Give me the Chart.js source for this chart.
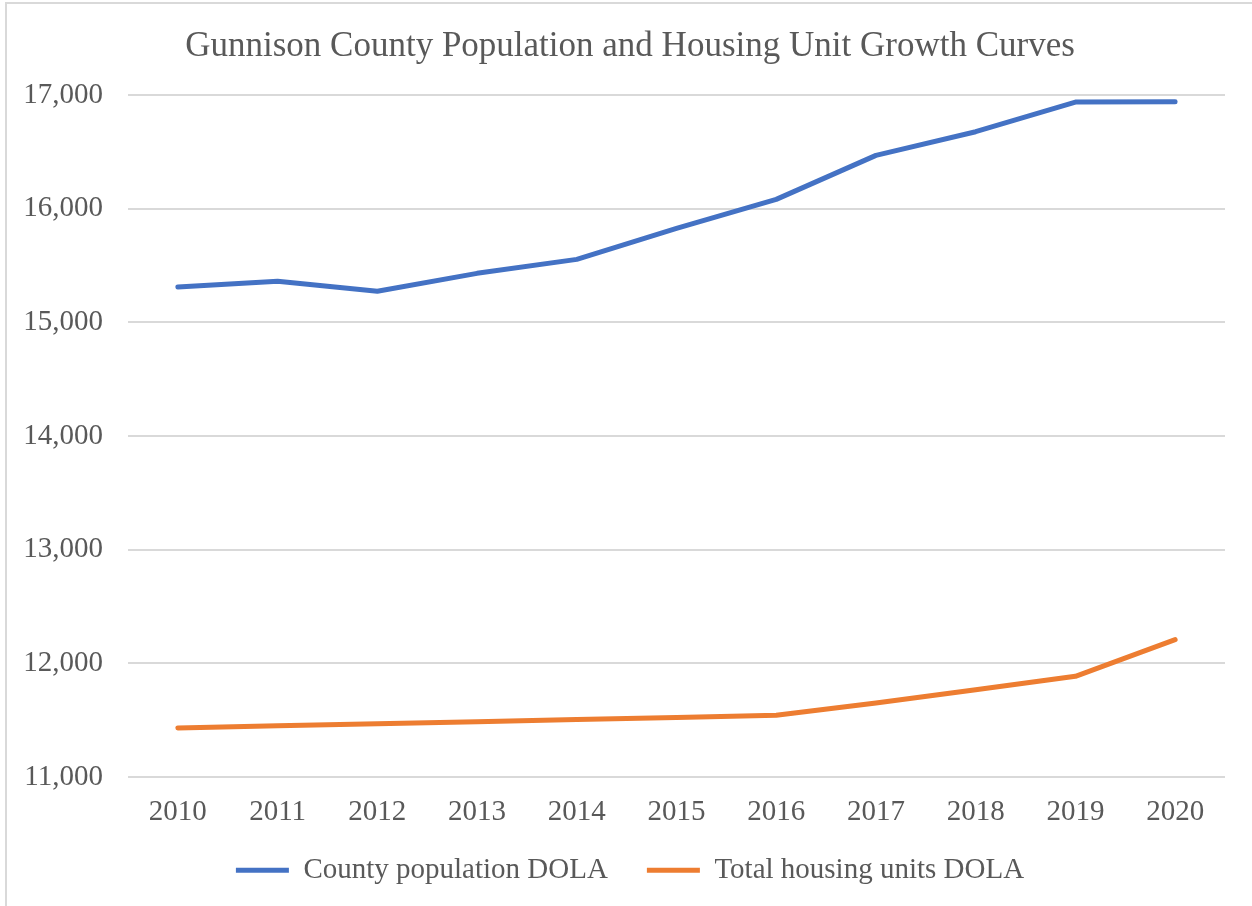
<!DOCTYPE html>
<html>
<head>
<meta charset="utf-8">
<script src="https://cdn.jsdelivr.net/npm/chart.js@4/dist/chart.umd.min.js"></script>
<style>
  html, body { margin: 0; padding: 0; background: #ffffff; }
  #wrap { position: absolute; left: 0; top: 0; width: 1252px; height: 906px; }
  #frame { position: absolute; left: 5px; top: 2px; width: 1260px; height: 920px;
           border-left: 2px solid #d9d9d9; border-top: 2px solid #d9d9d9; }
  canvas { position: absolute; left: 0; top: 0; }
</style>
</head>
<body>
<div id="wrap">
  <div id="frame"></div>
  <canvas id="c" width="1252" height="906"></canvas>
</div>
<script>
const years = ['2010','2011','2012','2013','2014','2015','2016','2017','2018','2019','2020'];
const population = [15311, 15361, 15273, 15431, 15554, 15827, 16082, 16469, 16677, 16938, 16941];
const housing = [11431, 11450, 11468, 11487, 11505, 11524, 11543, 11651, 11768, 11886, 12208];
const yTicks = [11000, 12000, 13000, 14000, 15000, 16000, 17000];
const chartTitle = 'Gunnison County Population and Housing Unit Growth Curves';
const seriesNames = ['County population DOLA', 'Total housing units DOLA'];

const FONT = "'Liberation Serif', 'Times New Roman', serif";
const TXT = '#595959';

// moves the legend box up so it sits closer to the axis labels (as in the reference)
const legendShift = {
  id: 'legendShift',
  afterLayout(chart) {
    const L = chart.legend;
    if (L) { L.top -= 31; L.bottom -= 31; }
  }
};

new Chart(document.getElementById('c'), {
  type: 'line',
  data: {
    labels: years,
    datasets: [
      { label: seriesNames[0], data: population, borderColor: '#4472C4', backgroundColor: '#4472C4',
        borderWidth: 5, pointRadius: 0, tension: 0, borderCapStyle: 'round', borderJoinStyle: 'round' },
      { label: seriesNames[1], data: housing, borderColor: '#ED7D31', backgroundColor: '#ED7D31',
        borderWidth: 5, pointRadius: 0, tension: 0, borderCapStyle: 'round', borderJoinStyle: 'round' }
    ]
  },
  plugins: [legendShift],
  options: {
    responsive: false,
    animation: false,
    layout: { padding: { left: 8, right: 0, top: 0, bottom: -19.8 } },
    plugins: {
      title: {
        display: true, text: chartTitle, color: TXT,
        font: { family: FONT, size: 35, weight: 'normal' },
        padding: { top: 26, bottom: 27 }
      },
      legend: {
        position: 'bottom',
        labels: {
          color: TXT, font: { family: FONT, size: 29 },
          boxWidth: 53, boxHeight: 5, padding: 39,
          generateLabels: (chart) => chart.data.datasets.map((ds, i) => ({
            text: ds.label, fillStyle: ds.borderColor, strokeStyle: ds.borderColor,
            lineWidth: 0, fontColor: TXT, datasetIndex: i, hidden: false
          }))
        }
      },
      tooltip: { enabled: false }
    },
    scales: {
      x: {
        offset: true,
        grid: { display: false, drawTicks: false },
        border: { display: false },
        ticks: { color: TXT, font: { family: FONT, size: 29 }, padding: 18, maxRotation: 0 }
      },
      y: {
        min: 11000, max: 17000,
        afterBuildTicks: (s) => { s.ticks = yTicks.map(v => ({ value: v })); },
        afterFit: (s) => { s.width = 120; },
        grid: { color: '#d9d9d9', lineWidth: 2, drawTicks: false },
        border: { display: false },
        ticks: { color: TXT, font: { family: FONT, size: 29 }, padding: 25,
                 callback: (v) => v.toLocaleString('en-US') }
      },
      yRight: {
        position: 'right',
        afterFit: (s) => { s.width = 27; },
        grid: { display: false, drawTicks: false },
        border: { display: false },
        ticks: { display: false }
      }
    }
  }
});
</script>
</body>
</html>
